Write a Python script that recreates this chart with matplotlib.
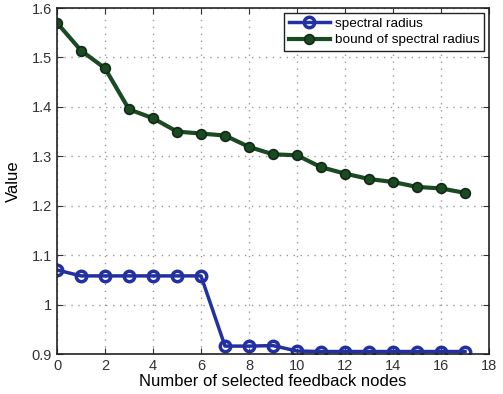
import matplotlib
matplotlib.use("Agg")
import matplotlib.pyplot as plt

x = list(range(18))
spectral = [1.070, 1.058, 1.058, 1.058, 1.058, 1.058, 1.058, 0.916, 0.916, 0.917,
            0.906, 0.905, 0.905, 0.905, 0.905, 0.905, 0.905, 0.905]
bound = [1.570, 1.514, 1.478, 1.395, 1.377, 1.350, 1.346, 1.342, 1.319, 1.304,
         1.302, 1.278, 1.265, 1.254, 1.248, 1.238, 1.235, 1.226]
xticks = [0, 2, 4, 6, 8, 10, 12, 14, 16, 18]
yticks = [0.9, 1.0, 1.1, 1.2, 1.3, 1.4, 1.5, 1.6]
ytick_labels = ["0.9", "1", "1.1", "1.2", "1.3", "1.4", "1.5", "1.6"]

plt.rcParams['font.family'] = ['Liberation Sans', 'DejaVu Sans']
fig = plt.figure(figsize=(5.03, 3.94), dpi=100)
ax = fig.add_axes([57/503, 1-354/394, (489-57)/503, (354-8)/394])

blue = '#2230a0'
green = '#1a4a22'
ax.plot(x, spectral, '-o', color=blue, lw=2.5, ms=7.5, mfc='none', mec=blue, mew=2.5,
        label='spectral radius')
ax.plot(x, bound, '-o', color=green, lw=3, ms=7, mfc=green, mec='#102a14', mew=1.2,
        label='bound of spectral radius')

ax.set_xlim(0, 18)
ax.set_ylim(0.9, 1.6)
ax.set_xticks(xticks)
ax.set_yticks(yticks)
ax.set_yticklabels(ytick_labels)
ax.tick_params(direction='in', top=True, right=True, labelsize=10.5, colors='#333333', length=4)
ax.grid(True, linestyle=(0, (1, 4)), color='#999999', lw=1.0)
for s in ax.spines.values():
    s.set_color('#222222')
    s.set_linewidth(1.2)
ax.set_xlabel('Number of selected feedback nodes', fontsize=12, labelpad=1)
ax.set_ylabel('Value', fontsize=12, labelpad=8)
leg = ax.legend(loc='upper right', fontsize=9.7, fancybox=False, edgecolor='#222222',
                framealpha=1, borderpad=0.35, labelspacing=0.3, handlelength=3.0,
                handletextpad=0.4, borderaxespad=0.35)
leg.get_frame().set_linewidth(1.0)
fig.savefig('out.png', dpi=100)
